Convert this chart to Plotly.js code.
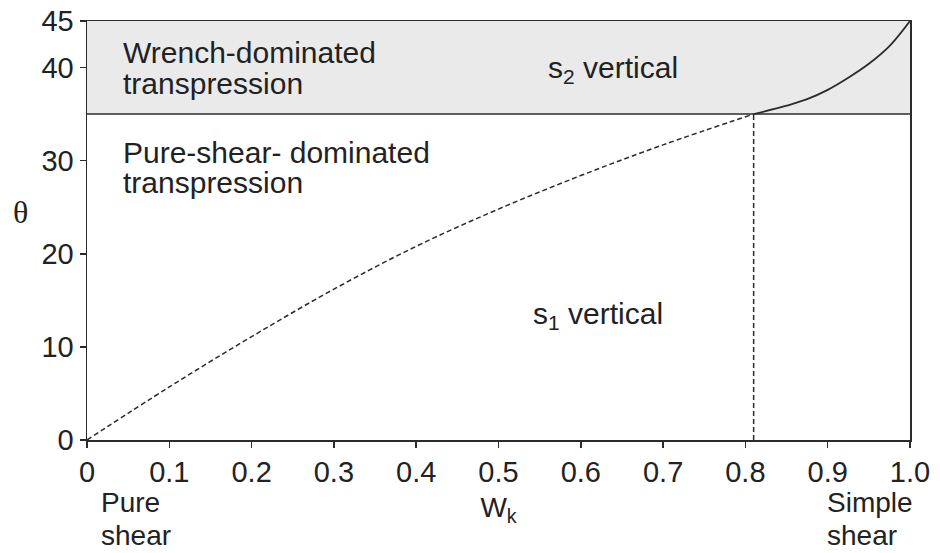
<!DOCTYPE html>
<html>
<head>
<meta charset="utf-8">
<script src="https://cdn.plot.ly/plotly-3.0.1.min.js"></script>
<style>html,body{margin:0;padding:0;background:#fff;}#chart{width:940px;height:553px;}</style>
</head>
<body>
<div id="chart"></div>
<script>
// Kinematic vorticity number Wk vs angle theta
const wkDashed = [0, 0.1, 0.2, 0.3, 0.4, 0.5, 0.6, 0.7, 0.81];
const thetaDashed = [0, 5.7, 11.1, 16.2, 20.8, 24.8, 28.4, 31.7, 35];
const wkSolid = [0.81, 0.85, 0.875, 0.9, 0.925, 0.95, 0.975, 1.0];
const thetaSolid = [35, 35.9, 36.6, 37.6, 38.9, 40.4, 42.3, 45];
const switchWk = [0.81, 0.81];
const switchTheta = [0, 35];
const boundaryTheta = 35;
const thetaMax = 45;
const xTickVals = [0, 0.1, 0.2, 0.3, 0.4, 0.5, 0.6, 0.7, 0.8, 0.9, 1.0];
const xTickText = ["0", "0.1", "0.2", "0.3", "0.4", "0.5", "0.6", "0.7", "0.8", "0.9", "1.0"];
const yTickVals = [0, 10, 20, 30, 40, 45];
const yTickText = ["0", "10", "20", "30", "40", "45"];

const lineCol = '#2b2b2b';
const txtCol = '#222';
const F = 'Liberation Sans, Arial, sans-serif';

const traces = [
  {x: wkDashed, y: thetaDashed, mode: 'lines', line: {color: lineCol, width: 1.5, dash: '5px,3px', shape: 'spline', smoothing: 1}, hoverinfo: 'x+y'},
  {x: wkSolid, y: thetaSolid, mode: 'lines', line: {color: lineCol, width: 1.8, shape: 'spline', smoothing: 1}, hoverinfo: 'x+y'},
  {x: switchWk, y: switchTheta, mode: 'lines', line: {color: lineCol, width: 1.5, dash: '5px,3px'}, hoverinfo: 'x+y'}
];

function ann(x, y, text, size, xref, yref) {
  return {x: x, y: y, xref: xref || 'x', yref: yref || 'y', xanchor: 'left', yanchor: 'middle',
          align: 'left', showarrow: false, borderpad: 0, text: text, font: {family: F, size: size, color: txtCol}};
}

const layout = {
  width: 940, height: 553,
  margin: {l: 87, r: 30, t: 21, b: 113},
  paper_bgcolor: '#fff', plot_bgcolor: '#fff',
  showlegend: false,
  font: {family: F, color: txtCol, size: 29},
  xaxis: {
    range: [0, 1], tickvals: xTickVals, ticktext: xTickText,
    showgrid: false, zeroline: false, showline: true, linecolor: lineCol, linewidth: 1.5,
    mirror: true, ticks: 'outside', ticklen: 6, tickcolor: lineCol, tickwidth: 1.5,
    tickfont: {family: F, size: 29, color: txtCol},
    title: {text: 'W<sub>k</sub>', font: {family: F, size: 28, color: txtCol}, standoff: 10}
  },
  yaxis: {
    range: [0, 45], tickvals: yTickVals, ticktext: yTickText,
    showgrid: false, zeroline: false, showline: true, linecolor: lineCol, linewidth: 1.5,
    mirror: true, ticks: 'outside', ticklen: 6, tickcolor: lineCol, tickwidth: 1.5,
    tickfont: {family: F, size: 29, color: txtCol}
  },
  shapes: [
    {type: 'rect', xref: 'x', yref: 'y', x0: 0, x1: 1, y0: boundaryTheta, y1: thetaMax,
     fillcolor: '#eaeaea', line: {width: 0}, layer: 'below'},
    {type: 'line', xref: 'x', yref: 'y', x0: 0, x1: 1, y0: boundaryTheta, y1: boundaryTheta,
     line: {color: lineCol, width: 1.5}}
  ],
  annotations: [
    ann(0.0425, 41.67, 'Wrench-dominated', 30),
    ann(0.0425, 38.29, 'transpression', 30),
    ann(0.0425, 30.88, 'Pure-shear- dominated', 30),
    ann(0.0425, 27.66, 'transpression', 30),
    ann(0.559, 39.77, 's<sub>2</sub> vertical', 30),
    ann(0.541, 13.32, 's<sub>1</sub> vertical', 30),
    ann(0.0155, -0.148, 'Pure', 28, 'x', 'paper'),
    ann(0.0155, -0.228, 'shear', 28, 'x', 'paper'),
    ann(0.8985, -0.148, 'Simple', 28, 'x', 'paper'),
    ann(0.8985, -0.228, 'shear', 28, 'x', 'paper'),
    {x: 0, y: 0.545, xref: 'paper', yref: 'paper', xanchor: 'center', yanchor: 'middle', showarrow: false,
     xshift: -67, text: 'θ', font: {family: 'Liberation Serif, Times New Roman, serif', size: 32, color: txtCol}}
  ]
};

Plotly.newPlot('chart', traces, layout, {displayModeBar: false, staticPlot: true});
</script>
</body>
</html>
